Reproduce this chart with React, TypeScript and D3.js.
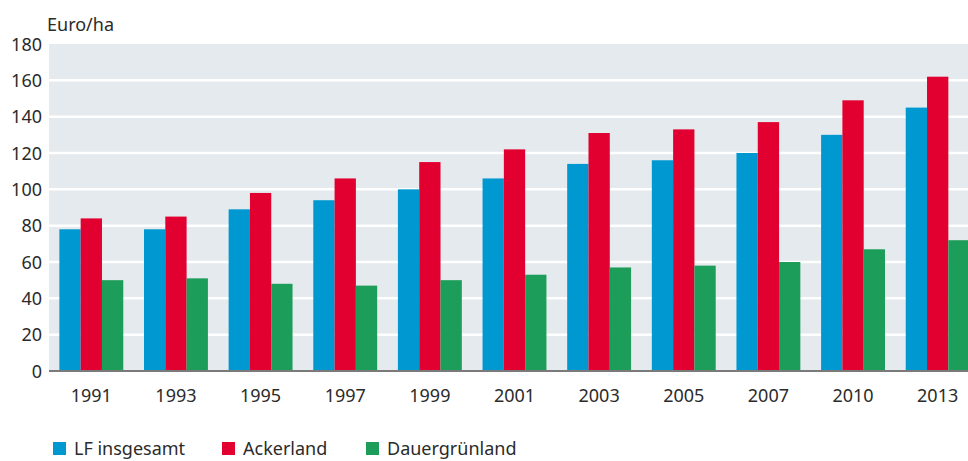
import React, { useEffect, useRef } from "react";
import * as d3 from "d3";

const years = ["1991", "1993", "1995", "1997", "1999", "2001", "2003", "2005", "2007", "2010", "2013"];
const lfInsgesamt = [78, 78, 89, 94, 100, 106, 114, 116, 120, 130, 145];
const ackerland = [84, 85, 98, 106, 115, 122, 131, 133, 137, 149, 162];
const dauergruenland = [50, 51, 48, 47, 50, 53, 57, 58, 60, 67, 72];
const seriesNames = ["LF insgesamt", "Ackerland", "Dauergrünland"];
const seriesColors = ["#0098d1", "#e1002f", "#1d9d5a"];
const yTicks = [0, 20, 40, 60, 80, 100, 120, 140, 160, 180];

const W = 968;
const H = 461;

const App = () => {
  const svgRef = useRef<SVGSVGElement>(null);

  useEffect(() => {
    const svg = d3.select(svgRef.current);
    svg.selectAll("*").remove();
    const font = "'Noto Sans', sans-serif";
    const left = 49;
    const top = 44;
    const bottom = 371;

    const x = d3.scaleBand().domain(years).range([left, 980]).paddingInner(0.245).paddingOuter(0.1225);
    const xs = d3.scaleBand().domain(seriesNames).range([0, x.bandwidth()]);
    const y = d3.scaleLinear().domain([0, 180]).range([bottom, top]);

    // background
    svg.append("rect").attr("x", left).attr("y", top).attr("width", W - left).attr("height", bottom - top).attr("fill", "#e5eaee");

    // gridlines
    svg
      .append("g")
      .selectAll("line")
      .data(yTicks.filter((t) => t > 0 && t < 180))
      .join("line")
      .attr("x1", left)
      .attr("x2", W)
      .attr("y1", (d) => y(d))
      .attr("y2", (d) => y(d))
      .attr("stroke", "#fff")
      .attr("stroke-width", 2.5);

    // bars
    const data = [lfInsgesamt, ackerland, dauergruenland];
    years.forEach((yr, i) => {
      const g = svg.append("g").attr("transform", `translate(${x(yr)},0)`);
      seriesNames.forEach((s, j) => {
        g.append("rect")
          .attr("x", xs(s)!)
          .attr("y", y(data[j][i]))
          .attr("width", xs.bandwidth())
          .attr("height", bottom - y(data[j][i]))
          .attr("fill", seriesColors[j]);
      });
    });

    // zero axis line
    svg.append("line").attr("x1", left).attr("x2", W).attr("y1", bottom).attr("y2", bottom).attr("stroke", "#7a7a7a").attr("stroke-width", 2);

    // y tick labels
    svg
      .append("g")
      .selectAll("text")
      .data(yTicks)
      .join("text")
      .attr("x", 42)
      .attr("y", (d) => y(d) + 6.5)
      .attr("text-anchor", "end")
      .attr("font-family", font)
      .attr("font-size", 18)
      .attr("fill", "#2b2b2b")
      .text((d) => d);

    // x tick labels
    svg
      .append("g")
      .selectAll("text")
      .data(years)
      .join("text")
      .attr("x", (d) => x(d)! + x.bandwidth() / 2)
      .attr("y", 402)
      .attr("text-anchor", "middle")
      .attr("font-family", font)
      .attr("font-size", 18)
      .attr("fill", "#2b2b2b")
      .text((d) => d);

    // unit label
    svg.append("text").attr("x", 47).attr("y", 31).attr("font-family", font).attr("font-size", 18).attr("fill", "#2b2b2b").text("Euro/ha");

    // legend
    const legendX = [53, 222, 366];
    seriesNames.forEach((s, j) => {
      svg.append("rect").attr("x", legendX[j]).attr("y", 442).attr("width", 13).attr("height", 13).attr("fill", seriesColors[j]);
      svg
        .append("text")
        .attr("x", legendX[j] + 21)
        .attr("y", 455)
        .attr("font-family", font)
        .attr("font-size", 18)
        .attr("fill", "#2b2b2b")
        .text(s);
    });
  }, []);

  return (
    <div style={{ position: "absolute", left: 0, top: 0, width: W, height: H, overflow: "hidden", background: "#fff" }}>
      <svg ref={svgRef} width={W} height={H} style={{ display: "block" }}></svg>
    </div>
  );
};

export default App;
